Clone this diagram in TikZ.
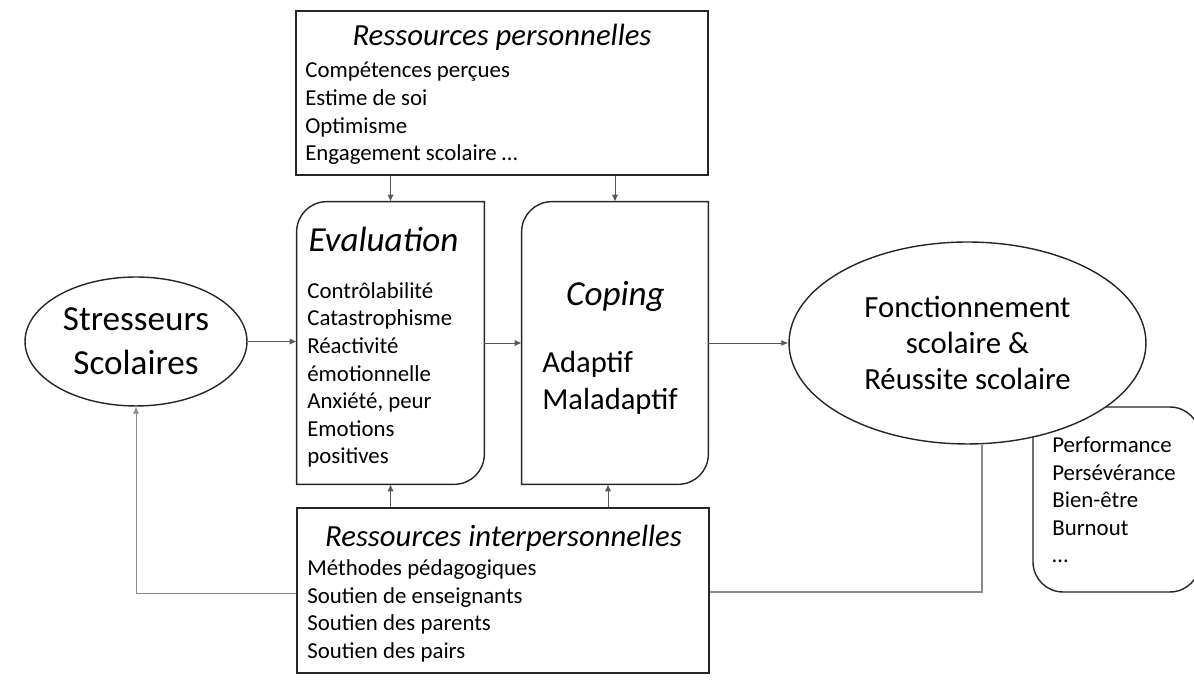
\documentclass[tikz,border=0pt]{standalone}
\usepackage{fontspec}
\setmainfont{Carlito}
\usetikzlibrary{shapes.geometric, arrows.meta}
\definecolor{boxgray}{HTML}{262626}
\definecolor{arrgray}{HTML}{595959}
\definecolor{backgray}{HTML}{8C8C8C}
\tikzset{
	boxline/.style = {draw = boxgray, line width = 0.8pt},
	arr/.style = {draw = arrgray, line width = 0.5pt, -{Latex[length = 4pt, width = 3.5pt]}},
	back/.style = {draw = backgray, line width = 0.6pt},
	listtext/.style = {align = left, inner sep = 0pt, font = \fontsize{13}{15.7}\selectfont},
	headtext/.style = {inner sep = 0pt, font = \fontsize{17.5}{20}\selectfont\itshape},
	bigtitle/.style = {inner sep = 0pt, font = \fontsize{20}{24}\selectfont\itshape},
}

\begin{document}
\begin{tikzpicture}[x = 0.02cm, y = 0.02cm]
				\useasboundingbox (0,0) rectangle (1194,689);
				\clip (0,0) rectangle (1194,689);
				\node (pers) at (502,596)[boxline, minimum width = 8.24cm, minimum height = 3.28cm]{};
				\node (persTitle) at (502,651.5)[headtext]{Ressources personnelles};
				\node (persList) at (305,575.5)[listtext, anchor = west]{Compétences perçues\\Estime de soi\\Optimisme\\Engagement scolaire …};
				
				\node (eval) at (390.5,346)[minimum width = 3.74cm, minimum height = 5.64cm]{};
				\draw[boxline] ([xshift = 0.6cm]eval.north west) -- (eval.north east) -- ([yshift = 0.6cm]eval.south east) arc[start angle = 0, end angle = -90, radius = 0.6cm] -- (eval.south west) -- ([yshift = -0.6cm]eval.north west) arc[start angle = 180, end angle = 90, radius = 0.6cm] -- cycle;
				\node (evalTitle) at (383.5,449.5)[bigtitle]{Evaluation};
				\node (evalList) at (307,314)[listtext, anchor = west]{Contrôlabilité\\Catastrophisme\\Réactivité\\émotionnelle\\Anxiété, peur\\Emotions\\positives};
				
				\node (coping) at (615,346)[minimum width = 3.72cm, minimum height = 5.64cm]{};
				\draw[boxline] ([xshift = 0.6cm]coping.north west) -- (coping.north east) -- ([yshift = 0.6cm]coping.south east) arc[start angle = 0, end angle = -90, radius = 0.6cm] -- (coping.south west) -- ([yshift = -0.6cm]coping.north west) arc[start angle = 180, end angle = 90, radius = 0.6cm] -- cycle;
				\node (copingTitle) at (615.5,393)[bigtitle]{Coping};
				\node (copingList) at (542,306)[anchor = west, align = left, inner sep = 0pt, font = \fontsize{17.4}{21}\selectfont]{Adaptif\\Maladaptif};
				
				\node (stress) at (136,347.5)[boxline, ellipse, minimum width = 4.44cm, minimum height = 2.58cm, inner sep = 0pt, align = center, font = \fontsize{20}{25}\selectfont]{Stresseurs\\Scolaires};
				
				\node (perf) at (1116.5,189.5)[boxline, rounded corners = 0.6cm, minimum width = 3.34cm, minimum height = 3.7cm]{};
				\node (perfList) at (1052,189)[listtext, anchor = west]{Performance\\Persévérance\\Bien-être\\Burnout\\…};
				
				\node (fonct) at (967.5,346)[boxline, ellipse, fill = white, minimum width = 7.14cm, minimum height = 4.04cm, inner sep = 0pt, align = center, font = \fontsize{17.5}{20.7}\selectfont]{Fonctionnement\\scolaire \&\\Réussite scolaire};
				
				\node (interp) at (503,98.5)[boxline, minimum width = 8.24cm, minimum height = 3.3cm]{};
				\node (interpTitle) at (503.5,151)[headtext]{Ressources interpersonnelles};
				\node (interpList) at (307,78)[listtext, anchor = west]{Méthodes pédagogiques\\Soutien de enseignants\\Soutien des parents\\Soutien des pairs};
				
				\coordinate (copIn) at ([xshift = -0.14cm]coping.south);
				\coordinate (fonctOut) at ([xshift = 0.29cm]fonct.south);
				\draw[arr] (pers.south -| eval.north) -- (eval.north);
				\draw[arr] (pers.south -| coping.north) -- (coping.north);
				\draw[arr] (interp.north -| eval.south) -- (eval.south);
				\draw[arr] (interp.north -| copIn) -- (copIn);
				\draw[arr] (stress.east) -- (stress.east -| eval.west);
				\draw[arr] (eval.east) -- (coping.west);
				\draw[arr] (coping.east) -- (fonct.west);
				\draw[arr, draw = backgray] ([yshift = -0.05cm]interp.west) -| (stress.south);
				\draw[back] (fonctOut) |- ([yshift = -0.03cm]interp.east);
			\end{tikzpicture}
\end{document}
